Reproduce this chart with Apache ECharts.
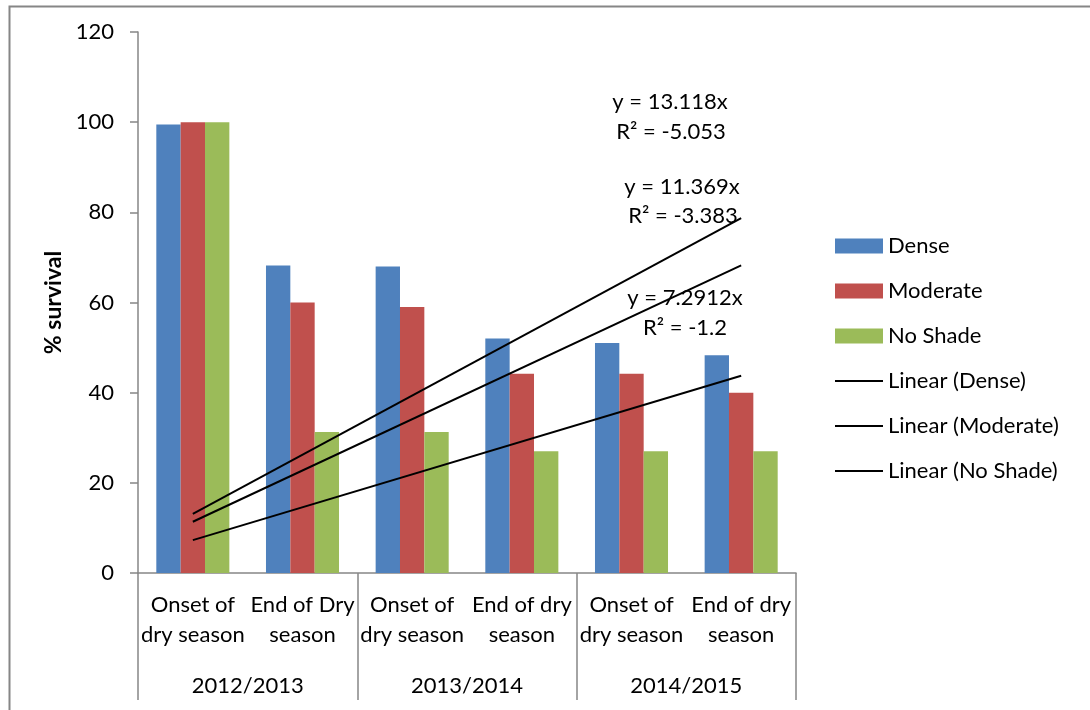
<!DOCTYPE html>
<html>
<head>
<meta charset="utf-8">
<script src="https://cdn.jsdelivr.net/npm/echarts@6/dist/echarts.min.js"></script>
<style>html,body{margin:0;padding:0;background:#fff;}#chart{width:1090px;height:710px;}</style>
</head>
<body>
<div id="chart"></div>
<script>
const categories = ['Onset of\ndry season', 'End of Dry\nseason', 'Onset of\ndry season', 'End of dry\nseason', 'Onset of\ndry season', 'End of dry\nseason'];
const years = ['2012/2013', '2013/2014', '2014/2015'];
const dense = [99.5, 68.2, 68.0, 52.0, 51.0, 48.3];
const moderate = [100, 60.0, 59.0, 44.2, 44.2, 40.0];
const noShade = [100, 31.3, 31.3, 27.0, 27.0, 27.0];
// trendline endpoints (first and last category)
const trendDense = [13.118, null, null, null, null, 78.708];
const trendModerate = [11.369, null, null, null, null, 68.214];
const trendNoShade = [7.2912, null, null, null, null, 43.747];
const yTicks = [0, 20, 40, 60, 80, 100, 120];

const FONT = 'Lato, "Open Sans", sans-serif';
const FS = 22;
const GRAY = '#868686';
const LINE_ICON = 'path://M0,0H48V2H0Z';

const chart = echarts.init(document.getElementById('chart'), null, {renderer: 'canvas'});
const barCommon = {type: 'bar', barWidth: '22.2%', barGap: '0%', xAxisIndex: 0, yAxisIndex: 0};
const lineCommon = {type: 'line', symbol: 'none', connectNulls: true, xAxisIndex: 0, yAxisIndex: 0, z: 5, silent: true};

chart.setOption({
  animation: false,
  backgroundColor: '#fff',
  textStyle: {fontFamily: FONT},
  grid: {left: 138, right: 294, top: 32, bottom: 137, containLabel: false},
  legend: {
    orient: 'vertical', left: 835, top: 235, padding: 0,
    itemWidth: 48, itemHeight: 15, itemGap: 23,
    textStyle: {fontFamily: FONT, fontSize: FS, color: '#000', lineHeight: 20},
    data: [
      {name: 'Dense', icon: 'rect'},
      {name: 'Moderate', icon: 'rect'},
      {name: 'No Shade', icon: 'rect'},
      {name: 'Linear (Dense)', icon: LINE_ICON},
      {name: 'Linear (Moderate)', icon: LINE_ICON},
      {name: 'Linear (No Shade)', icon: LINE_ICON}
    ]
  },
  xAxis: [
    {
      type: 'category', data: categories, position: 'bottom',
      axisLine: {lineStyle: {color: GRAY, width: 1.5}},
      axisTick: {show: false},
      axisLabel: {interval: 0, fontFamily: FONT, fontSize: FS, color: '#000', lineHeight: 30, margin: 17}
    },
    {
      type: 'category', data: years, position: 'bottom',
      axisLine: {show: false},
      axisTick: {show: true, length: 127, lineStyle: {color: GRAY, width: 1.5}},
      axisLabel: {interval: 0, fontFamily: FONT, fontSize: FS, color: '#000', lineHeight: 24, margin: 101}
    }
  ],
  yAxis: {
    type: 'value', min: 0, max: 120, interval: 20,
    name: '% survival', nameLocation: 'middle', nameGap: 73,
    nameTextStyle: {fontFamily: FONT, fontSize: 23, fontWeight: 'bold', color: '#000'},
    axisLine: {show: true, lineStyle: {color: GRAY, width: 1.5}},
    axisTick: {show: true, length: 8, lineStyle: {color: GRAY, width: 1.5}},
    axisLabel: {fontFamily: FONT, fontSize: FS, color: '#000', margin: 24,
      formatter: v => yTicks.includes(v) ? String(v) : ''},
    splitLine: {show: false}
  },
  series: [
    Object.assign({name: 'Dense', data: dense, itemStyle: {color: '#4F81BD'}}, barCommon),
    Object.assign({name: 'Moderate', data: moderate, itemStyle: {color: '#C0504D'}}, barCommon),
    Object.assign({name: 'No Shade', data: noShade, itemStyle: {color: '#9BBB59'}}, barCommon),
    Object.assign({name: 'Linear (Dense)', data: trendDense, lineStyle: {color: '#000', width: 2}, itemStyle: {color: '#000'}}, lineCommon),
    Object.assign({name: 'Linear (Moderate)', data: trendModerate, lineStyle: {color: '#000', width: 2}, itemStyle: {color: '#000'}}, lineCommon),
    Object.assign({name: 'Linear (No Shade)', data: trendNoShade, lineStyle: {color: '#000', width: 2}, itemStyle: {color: '#000'}}, lineCommon)
  ],
  graphic: [
    {type: 'rect', left: 7, top: 4, shape: {x: 0, y: 0, width: 1100, height: 720}, style: {fill: 'none', stroke: GRAY, lineWidth: 2}, silent: true, z: -1},
    {type: 'text', x: 670, y: 102, style: {text: 'y = 13.118x', font: FS + 'px ' + FONT, fill: '#000', align: 'center', verticalAlign: 'middle'}},
    {type: 'text', x: 671, y: 132, style: {text: 'R² = -5.053', font: FS + 'px ' + FONT, fill: '#000', align: 'center', verticalAlign: 'middle'}},
    {type: 'text', x: 682, y: 187, style: {text: 'y = 11.369x', font: FS + 'px ' + FONT, fill: '#000', align: 'center', verticalAlign: 'middle'}},
    {type: 'text', x: 683, y: 216, style: {text: 'R² = -3.383', font: FS + 'px ' + FONT, fill: '#000', align: 'center', verticalAlign: 'middle'}},
    {type: 'text', x: 685, y: 298, style: {text: 'y = 7.2912x', font: FS + 'px ' + FONT, fill: '#000', align: 'center', verticalAlign: 'middle'}},
    {type: 'text', x: 685, y: 328, style: {text: 'R² = -1.2', font: FS + 'px ' + FONT, fill: '#000', align: 'center', verticalAlign: 'middle'}}
  ]
});
</script>
</body>
</html>
